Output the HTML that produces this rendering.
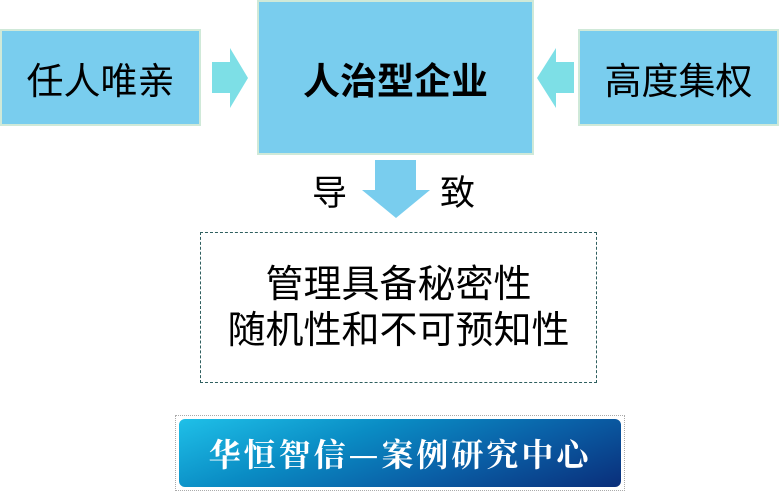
<!DOCTYPE html>
<html><head><meta charset="utf-8"><style>
body{margin:0;width:779px;height:495px;background:#fff;position:relative;overflow:hidden;font-family:"Liberation Sans","Noto Sans CJK SC",sans-serif}
.b{position:absolute;background:#79cdee;border:2px solid #cfe9d8;box-sizing:border-box;display:flex;align-items:center;justify-content:center;color:#000;white-space:nowrap}
.t{position:absolute;font-size:35px;line-height:1}
</style></head><body>
<div class="b" style="left:0;top:29px;width:201px;height:97px;font-size:37px">任人唯亲</div>
<div class="b" style="left:257px;top:0;width:277px;height:155px;font-size:37px;font-weight:bold">人治型企业</div>
<div class="b" style="left:578px;top:29px;width:201px;height:97px;font-size:37px">高度集权</div>
<svg style="position:absolute;left:0;top:0" width="779" height="230">
<polygon points="212,62 230,62 230,48 248,78 230,108 230,93 212,93" fill="#7ddfe6"/>
<polygon points="574,62 556,62 556,48 537,78 556,108 556,93 574,93" fill="#7ddfe6"/>
<polygon points="375,160 416,160 416,190 430,190 396,218 362,190 375,190" fill="#79cdee"/>
</svg>
<div class="t" style="left:312px;top:176px">导</div>
<div class="t" style="left:440px;top:176px">致</div>
<div style="position:absolute;left:200px;top:232px;width:397px;height:151px;border:1.5px dashed #2f5f5f;box-sizing:border-box;text-align:center;font-size:38px;line-height:46px;padding-top:29px;white-space:nowrap">管理具备秘密性<br>随机性和不可预知性</div>
<div style="position:absolute;left:175px;top:415px;width:450px;height:76px;border:1px dotted #aaa;box-sizing:border-box;padding:3px">
<div style="width:100%;height:100%;border-radius:6px;background:linear-gradient(160deg,#1fc0e8 0%,#0a8cc4 35%,#0a5fa6 65%,#0a2e7a 100%);display:flex;align-items:center;justify-content:center;color:#fff;font-size:32px;font-weight:bold;font-family:'Noto Serif CJK SC','Liberation Serif',serif;letter-spacing:3px;white-space:nowrap">华恒智信—案例研究中心</div>
</div>
</body></html>
